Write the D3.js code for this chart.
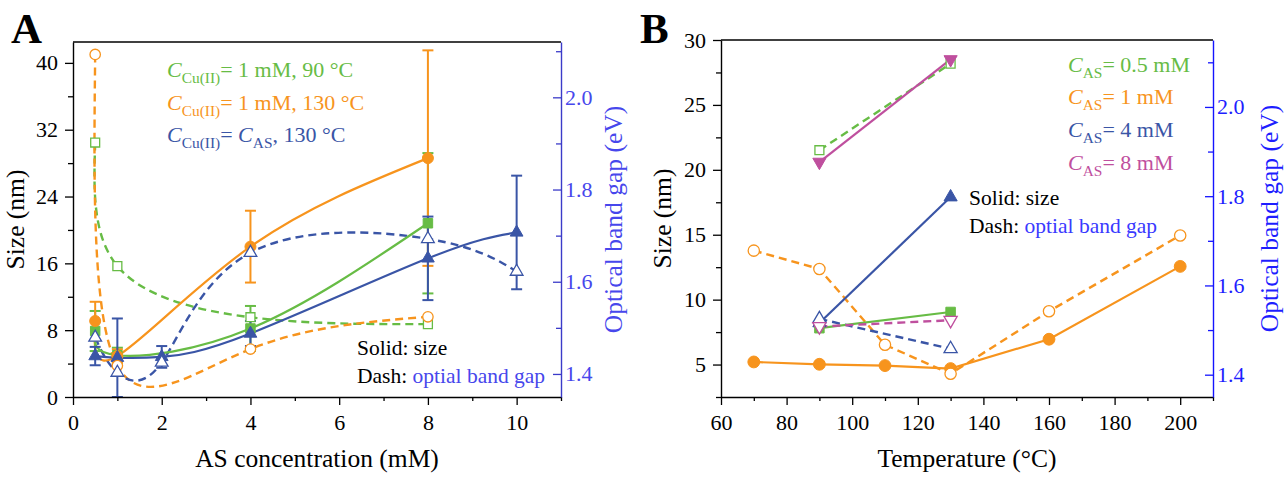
<!DOCTYPE html>
<html><head><meta charset="utf-8">
<script src="https://cdn.jsdelivr.net/npm/d3@7"></script>
<style>
html,body{margin:0;padding:0;background:#fff;}
svg text{font-family:"Liberation Serif","Times New Roman",serif;}
</style></head><body>
<svg id="chart" width="1287" height="479"></svg>
<script>
// ---- Panel A: size and band gap versus AS concentration ----
const concCu1 = [0.5, 1, 4, 8];              // C_Cu(II) = 1 mM series
const concEq = [0.5, 1, 2, 4, 8, 10];        // C_Cu(II) = C_AS series
const sizeCu1T90 = [7.9, 5.0, 8.2, 20.8];
const sizeCu1T90Err = [2.4, 0.9, 2.7, 8.4];
const sizeCu1T130 = [9.1, 4.9, 18.0, 28.6];
const sizeCu1T130Err = [2.3, 0.8, 4.3, 12.9];
const sizeEqT130 = [4.9, 4.7, 4.8, 7.6, 16.6, 19.7];
const sizeEqT130Err = [1.1, 4.7, 1.3, 1.5, 5.0, 6.8];
const gapCu1T90 = [1.902, 1.634, 1.523, 1.508];
const gapCu1T130 = [2.093, 1.418, 1.454, 1.524];
const gapEqT130 = [1.479, 1.403, 1.425, 1.663, 1.693, 1.622];

const ticksAX = [0, 2, 4, 6, 8, 10];
const ticksAXMinor = [1, 3, 5, 7, 9, 11];
const ticksASize = [0, 8, 16, 24, 32, 40];
const ticksASizeMinor = [4, 12, 20, 28, 36];
const ticksAGap = [1.4, 1.6, 1.8, 2.0];
const ticksAGapMinor = [1.5, 1.7, 1.9, 2.1];

// ---- Panel B: size and band gap versus temperature ----
const tempAS1 = [70, 90, 110, 130, 160, 200];
const tempOther = [90, 130];
const sizeAS1 = [5.2, 5.02, 4.92, 4.69, 6.95, 12.56];
const gapAS1 = [1.678, 1.637, 1.467, 1.402, 1.542, 1.712];
const sizeAS05 = [7.8, 9.05];
const gapAS05 = [1.903, 2.097];
const sizeAS4 = [8.2, 17.9];
const gapAS4 = [1.525, 1.458];
const sizeAS8 = [20.6, 28.5];
const gapAS8 = [1.508, 1.522];

const ticksBX = [60, 80, 100, 120, 140, 160, 180, 200];
const ticksBXMinor = [70, 90, 110, 130, 150, 170, 190, 210];
const ticksBSize = [5, 10, 15, 20, 25, 30];
const ticksBSizeMinor = [2.5, 7.5, 12.5, 17.5, 22.5, 27.5];
const ticksBGap = [1.4, 1.6, 1.8, 2.0];
const ticksBGapMinor = [1.5, 1.7, 1.9, 2.1];

const GREEN = "#67bc45", ORANGE = "#f7941d", NAVY = "#3a55a6", MAGENTA = "#bf4f9e";
const FONT = '"Liberation Serif", "Times New Roman", serif';
const svg = d3.select("#chart").attr("font-family", FONT);

const TICK_FONT = 22, LABEL_FONT = 25.5, LEG_FONT = 22, NOTE_FONT = 21.5;

function styleAxis(g, color) {
  g.attr("font-family", FONT);
  g.selectAll("path.domain").attr("stroke", color).attr("stroke-width", 1.4);
  g.selectAll(".tick line").attr("stroke", color).attr("stroke-width", 1.3);
  g.selectAll(".tick text").attr("fill", color).attr("font-size", TICK_FONT);
}

function drawAxes(x, yL, yR, t, cfg) {
  const [x0, x1] = x.range(), [y0, y1] = yL.range();
  // top frame line
  svg.append("line").attr("x1", x0).attr("x2", x1).attr("y1", y1).attr("y2", y1)
    .attr("stroke", "#000").attr("stroke-width", 1.4);
  const gxm = svg.append("g").attr("transform", `translate(0,${y0})`)
    .call(d3.axisBottom(x).tickValues(t.xMinor).tickSize(4).tickFormat(""));
  styleAxis(gxm, "#000"); gxm.select("path.domain").remove();
  const gx = svg.append("g").attr("transform", `translate(0,${y0})`)
    .call(d3.axisBottom(x).tickValues(t.x).tickSize(8).tickSizeOuter(0).tickPadding(9).tickFormat(d3.format("d")));
  styleAxis(gx, "#000");
  const gym = svg.append("g").attr("transform", `translate(${x0},0)`)
    .call(d3.axisLeft(yL).tickValues(t.yMinor).tickSize(5).tickFormat(""));
  styleAxis(gym, "#000"); gym.select("path.domain").remove();
  const gy = svg.append("g").attr("transform", `translate(${x0},0)`)
    .call(d3.axisLeft(yL).tickValues(t.y).tickSize(8).tickSizeOuter(0).tickPadding(7).tickFormat(d3.format("d")));
  styleAxis(gy, "#000");
  // right axis: ticks point inward
  const grm = svg.append("g").attr("transform", `translate(${x1},0)`)
    .call(d3.axisRight(yR).tickValues(t.rMinor).tickSize(-5).tickFormat(""));
  styleAxis(grm, cfg.rLine); grm.select("path.domain").remove();
  const gr = svg.append("g").attr("transform", `translate(${x1},0)`)
    .call(d3.axisRight(yR).tickValues(t.r).tickSize(-8).tickSizeOuter(0).tickPadding(4).tickFormat(d3.format(".1f")));
  styleAxis(gr, cfg.rLine);
  gr.selectAll(".tick text").attr("fill", cfg.rText);
  // axis titles
  svg.append("text").attr("x", (x0 + x1) / 2).attr("y", cfg.xTitleY).attr("text-anchor", "middle")
    .attr("font-size", LABEL_FONT).text(cfg.xTitle);
  svg.append("text").attr("transform", `translate(${cfg.yTitleX},${(y0 + y1) / 2}) rotate(-90)`)
    .attr("text-anchor", "middle").attr("font-size", LABEL_FONT).text("Size (nm)");
  svg.append("text").attr("transform", `translate(${cfg.rTitleX},${(y0 + y1) / 2}) rotate(-90)`)
    .attr("text-anchor", "middle").attr("font-size", LABEL_FONT).attr("fill", cfg.rText)
    .text("Optical band gap (eV)");
}

function line(xs, ys, x, y, color, dashed, curve) {
  const pts = xs.map((d, i) => [x(d), y(ys[i])]);
  svg.append("path").attr("d", d3.line().curve(curve)(pts)).attr("fill", "none")
    .attr("stroke", color).attr("stroke-width", dashed ? 2.4 : 2.2)
    .attr("stroke-dasharray", dashed ? "8,5" : null);
}

function errorBars(xs, ys, es, x, y, color) {
  xs.forEach((d, i) => {
    const cx = x(d), top = y(ys[i] + es[i]), bot = y(Math.max(0, ys[i] - es[i]));
    svg.append("line").attr("x1", cx).attr("x2", cx).attr("y1", top).attr("y2", bot)
      .attr("stroke", color).attr("stroke-width", 2);
    [top, bot].forEach(v => svg.append("line").attr("x1", cx - 5.5).attr("x2", cx + 5.5)
      .attr("y1", v).attr("y2", v).attr("stroke", color).attr("stroke-width", 2));
  });
}

function markers(xs, ys, x, y, color, type, filled, size) {
  const sym = { circle: d3.symbolCircle, square: d3.symbolSquare, tri: d3.symbolTriangle, down: d3.symbolTriangle }[type];
  xs.forEach((d, i) => {
    const cx = x(d), cy = y(ys[i]);
    svg.append("path").attr("d", d3.symbol(sym, size)())
      .attr("transform", `translate(${cx},${cy})${type === "down" ? " rotate(180)" : ""}`)
      .attr("fill", filled ? color : "#fff").attr("stroke", color).attr("stroke-width", filled ? 1 : 1.3);
  });
}

function richText(x, y, parts, size, color) {
  const t = svg.append("text").attr("x", x).attr("y", y).attr("font-size", size).attr("fill", color);
  let shift = 0;
  parts.forEach(p => {
    const s = t.append("tspan").text(p.t);
    if (p.i) s.attr("font-style", "italic");
    const want = p.sub ? 6 : 0;
    if (want !== shift) { s.attr("dy", want - shift); shift = want; }
    if (p.sub) s.attr("font-size", size * 0.7);
    if (p.c) s.attr("fill", p.c);
  });
}

// ================= Panel A =================
const xA = d3.scaleLinear().domain([0, 11]).range([73, 561]);
const yA = d3.scaleLinear().domain([0, 42.5]).range([397, 42]);
const yA2 = d3.scaleLinear().domain([1.35, 2.12]).range([397, 42]);

// dashed: band gap (right axis)
line(concCu1, gapCu1T90, xA, yA2, GREEN, true, d3.curveNatural);
line(concCu1, gapCu1T130, xA, yA2, ORANGE, true, d3.curveNatural);
line(concEq, gapEqT130, xA, yA2, NAVY, true, d3.curveNatural);
// solid: size (left axis)
line(concCu1, sizeCu1T90, xA, yA, GREEN, false, d3.curveNatural);
line(concCu1, sizeCu1T130, xA, yA, ORANGE, false, d3.curveNatural);
line(concEq, sizeEqT130, xA, yA, NAVY, false, d3.curveNatural);

errorBars(concCu1, sizeCu1T90, sizeCu1T90Err, xA, yA, GREEN);
errorBars(concCu1, sizeCu1T130, sizeCu1T130Err, xA, yA, ORANGE);
errorBars(concEq, sizeEqT130, sizeEqT130Err, xA, yA, NAVY);

markers(concCu1, sizeCu1T90, xA, yA, GREEN, "square", true, 90);
markers(concCu1, sizeCu1T130, xA, yA, ORANGE, "circle", true, 95);
markers(concEq, sizeEqT130, xA, yA, NAVY, "tri", true, 70);
markers(concCu1, gapCu1T90, xA, yA2, GREEN, "square", false, 80);
markers(concCu1, gapCu1T130, xA, yA2, ORANGE, "circle", false, 85);
markers(concEq, gapEqT130, xA, yA2, NAVY, "tri", false, 70);

drawAxes(xA, yA, yA2,
  { x: ticksAX, xMinor: ticksAXMinor, y: ticksASize, yMinor: ticksASizeMinor, r: ticksAGap, rMinor: ticksAGapMinor },
  { rLine: "#3b3bc9", rText: "#4747ec", xTitle: "AS concentration (mM)", xTitleY: 467, yTitleX: 24, rTitleX: 622 });

richText(167, 77, [{ t: "C", i: true }, { t: "Cu(II)", sub: true }, { t: "= 1 mM, 90 °C" }], LEG_FONT, GREEN);
richText(167, 110, [{ t: "C", i: true }, { t: "Cu(II)", sub: true }, { t: "= 1 mM, 130 °C" }], LEG_FONT, ORANGE);
richText(167, 142, [{ t: "C", i: true }, { t: "Cu(II)", sub: true }, { t: "= " }, { t: "C", i: true }, { t: "AS", sub: true }, { t: ", 130 °C" }], LEG_FONT, NAVY);
richText(357, 355, [{ t: "Solid: size" }], NOTE_FONT, "#000");
richText(357, 383, [{ t: "Dash: " }, { t: "optial band gap", c: "#4747ec" }], NOTE_FONT, "#000");

svg.append("text").attr("x", 11).attr("y", 43).attr("font-size", 43).attr("font-weight", "bold").text("A");

// ================= Panel B =================
const xB = d3.scaleLinear().domain([60, 210]).range([721, 1213]);
const yB = d3.scaleLinear().domain([2.5, 30]).range([397, 40]);
const yB2 = d3.scaleLinear().domain([1.35, 2.15]).range([397, 40]);

line(tempOther, gapAS05, xB, yB2, GREEN, true, d3.curveLinear);
line(tempOther, sizeAS8, xB, yB, MAGENTA, false, d3.curveLinear);
line(tempAS1, gapAS1, xB, yB2, ORANGE, true, d3.curveLinear);
line(tempAS1, sizeAS1, xB, yB, ORANGE, false, d3.curveLinear);
line(tempOther, sizeAS4, xB, yB, NAVY, false, d3.curveLinear);
line(tempOther, gapAS4, xB, yB2, NAVY, true, d3.curveLinear);
line(tempOther, sizeAS05, xB, yB, GREEN, false, d3.curveLinear);
line(tempOther, gapAS8, xB, yB2, MAGENTA, true, d3.curveLinear);

markers(tempOther, gapAS05, xB, yB2, GREEN, "square", false, 80);
markers(tempOther, sizeAS8, xB, yB, MAGENTA, "down", true, 75);
markers(tempAS1, sizeAS1, xB, yB, ORANGE, "circle", true, 110);
markers(tempAS1, gapAS1, xB, yB2, ORANGE, "circle", false, 100);
markers(tempOther, sizeAS4, xB, yB, NAVY, "tri", true, 75);
markers(tempOther, gapAS4, xB, yB2, NAVY, "tri", false, 75);
markers(tempOther, sizeAS05, xB, yB, GREEN, "square", true, 90);
markers(tempOther, gapAS8, xB, yB2, MAGENTA, "down", false, 75);

drawAxes(xB, yB, yB2,
  { x: ticksBX, xMinor: ticksBXMinor, y: ticksBSize, yMinor: ticksBSizeMinor, r: ticksBGap, rMinor: ticksBGapMinor },
  { rLine: "#1414ff", rText: "#1e1eff", xTitle: "Temperature (°C)", xTitleY: 467, yTitleX: 671, rTitleX: 1278 });

richText(1068, 72, [{ t: "C", i: true }, { t: "AS", sub: true }, { t: "= 0.5 mM" }], LEG_FONT, GREEN);
richText(1068, 104, [{ t: "C", i: true }, { t: "AS", sub: true }, { t: "= 1 mM" }], LEG_FONT, ORANGE);
richText(1068, 137, [{ t: "C", i: true }, { t: "AS", sub: true }, { t: "= 4 mM" }], LEG_FONT, NAVY);
richText(1068, 170, [{ t: "C", i: true }, { t: "AS", sub: true }, { t: "= 8 mM" }], LEG_FONT, MAGENTA);
richText(969, 205, [{ t: "Solid: size" }], NOTE_FONT, "#000");
richText(969, 233, [{ t: "Dash: " }, { t: "optial band gap", c: "#3a3aff" }], NOTE_FONT, "#000");

svg.append("text").attr("x", 640).attr("y", 43).attr("font-size", 43).attr("font-weight", "bold").text("B");
</script>
</body></html>
